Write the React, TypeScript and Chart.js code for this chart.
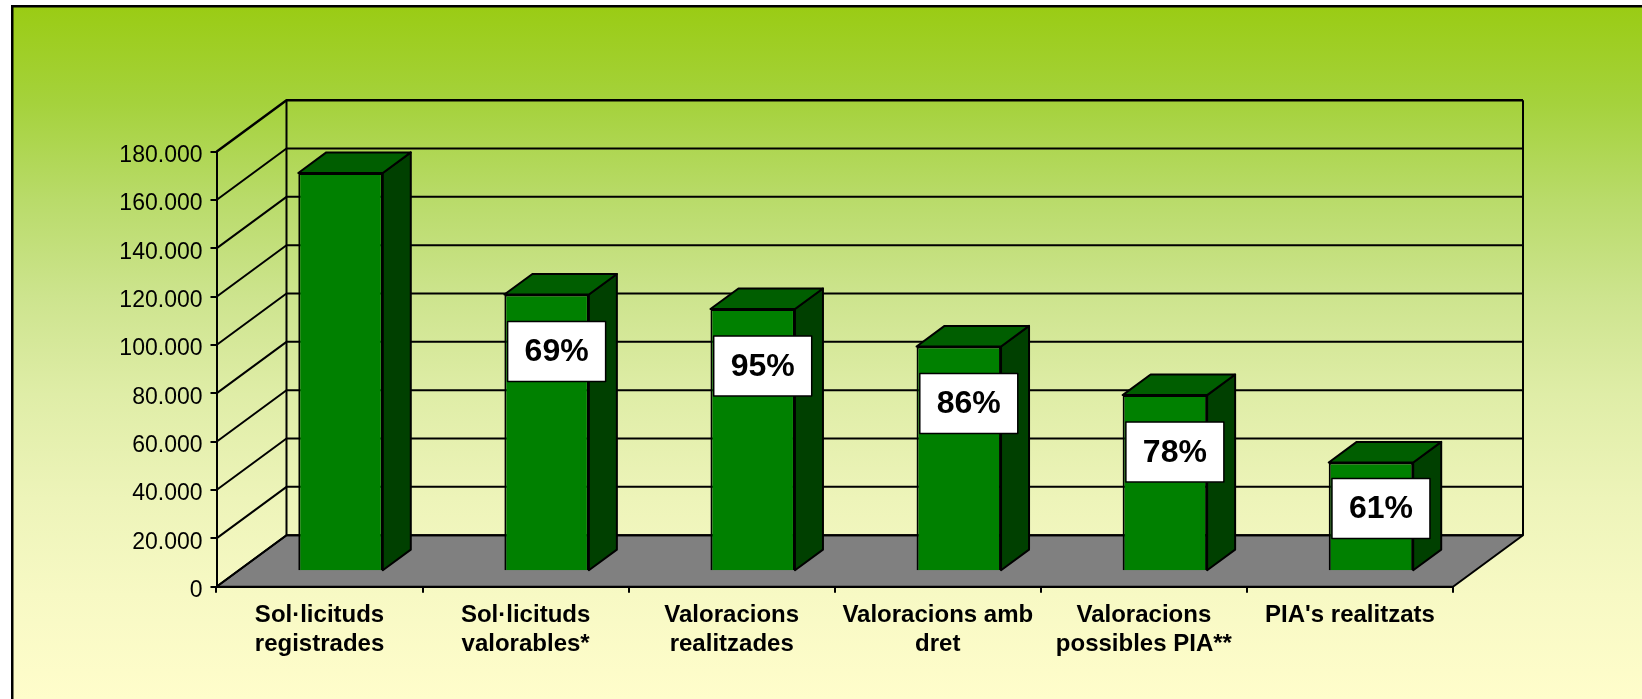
import React, { useEffect, useRef } from "react";
import { Chart, registerables } from "chart.js";

Chart.register(...registerables);

// ---- Data ----
const categories: string[][] = [
  ["Sol·licituds", "registrades"],
  ["Sol·licituds", "valorables*"],
  ["Valoracions", "realitzades"],
  ["Valoracions amb", "dret"],
  ["Valoracions", "possibles PIA**"],
  ["PIA's realitzats"],
];
const values: number[] = [164800, 114500, 108500, 93000, 72900, 45000];
const percentLabels: string[] = ["", "69%", "95%", "86%", "78%", "61%"];
const yMin = 0;
const yMax = 180000;
const yStep = 20000;

// ---- Styling / geometry ----
const FONT = "'Liberation Sans', Arial, Helvetica, sans-serif";
const DX = 70;
const DY = -51.5;
const BAR_FRONT = 0.3;
const BAR_DEPTH = 0.4;

const fmt = (v: number) => String(v).replace(/\B(?=(\d{3})+(?!\d))/g, ".");

const threeDPlugin = {
  id: "threeD",
  beforeDraw(chart: any) {
    const { ctx, width, height } = chart;
    ctx.save();
    ctx.fillStyle = "#ffffff";
    ctx.fillRect(0, 0, width, height);
    const g = ctx.createLinearGradient(0, 6, 0, height);
    g.addColorStop(0, "#9ACC14");
    g.addColorStop(0.14, "#A5D23C");
    g.addColorStop(0.28, "#B9DB6A");
    g.addColorStop(0.42, "#CDE48E");
    g.addColorStop(0.56, "#DFEDA7");
    g.addColorStop(0.71, "#EDF4B9");
    g.addColorStop(0.85, "#F7F9C4");
    g.addColorStop(1, "#FFFDCB");
    ctx.fillStyle = g;
    ctx.fillRect(12, 6, width - 12, height - 6);
    ctx.strokeStyle = "#000";
    ctx.lineWidth = 2.5;
    ctx.beginPath();
    ctx.moveTo(12.25, height + 5);
    ctx.lineTo(12.25, 6.25);
    ctx.lineTo(width + 5, 6.25);
    ctx.stroke();

    const yS = chart.scales.y;
    const L = chart.chartArea.left;
    const R = chart.chartArea.right;
    const y0 = yS.getPixelForValue(yS.min);
    const yT = yS.getPixelForValue(yS.max);

    ctx.lineJoin = "round";
    // floor
    ctx.beginPath();
    ctx.moveTo(L, y0);
    ctx.lineTo(R, y0);
    ctx.lineTo(R + DX, y0 + DY);
    ctx.lineTo(L + DX, y0 + DY);
    ctx.closePath();
    ctx.fillStyle = "#808080";
    ctx.fill();
    ctx.lineWidth = 2;
    ctx.stroke();

    // gridlines on side wall and back wall
    yS.ticks.forEach((t: any) => {
      const y = yS.getPixelForValue(t.value);
      ctx.lineWidth = t.value === yS.max ? 2.5 : 2;
      ctx.beginPath();
      ctx.moveTo(L, y);
      ctx.lineTo(L + DX, y + DY);
      ctx.lineTo(R + DX, y + DY);
      ctx.stroke();
    });
    ctx.lineWidth = 2;
    ctx.beginPath();
    ctx.moveTo(L + DX, yT + DY);
    ctx.lineTo(L + DX, y0 + DY);
    ctx.moveTo(R + DX, yT + DY);
    ctx.lineTo(R + DX, y0 + DY);
    ctx.stroke();
    ctx.restore();
  },
  beforeDatasetsDraw(chart: any) {
    const ctx = chart.ctx;
    ctx.save();
    ctx.translate(DX * BAR_FRONT, DY * BAR_FRONT);
    const meta = chart.getDatasetMeta(0);
    const bx = DX * BAR_DEPTH;
    const by = DY * BAR_DEPTH;
    ctx.lineWidth = 2;
    ctx.lineJoin = "round";
    ctx.strokeStyle = "#000";
    meta.data.forEach((bar: any) => {
      const { x, y, base, width } = bar.getProps(["x", "y", "base", "width"], true);
      const l = x - width / 2;
      const r = x + width / 2;
      // side
      ctx.beginPath();
      ctx.moveTo(r, y);
      ctx.lineTo(r + bx, y + by);
      ctx.lineTo(r + bx, base + by);
      ctx.lineTo(r, base);
      ctx.closePath();
      ctx.fillStyle = "#004000";
      ctx.fill();
      ctx.stroke();
      // top
      ctx.beginPath();
      ctx.moveTo(l, y);
      ctx.lineTo(l + bx, y + by);
      ctx.lineTo(r + bx, y + by);
      ctx.lineTo(r, y);
      ctx.closePath();
      ctx.fillStyle = "#005E00";
      ctx.fill();
      ctx.stroke();
    });
  },
  afterDatasetsDraw(chart: any) {
    const ctx = chart.ctx;
    const meta = chart.getDatasetMeta(0);
    meta.data.forEach((bar: any, i: number) => {
      const txt = percentLabels[i];
      if (!txt) return;
      const { x, y, base } = bar.getProps(["x", "y", "base"], true);
      const cx = x + 10;
      const cy = Math.min(y + 57, (y + base) / 2 - 8);
      const w = 98;
      const h = 60;
      ctx.fillStyle = "#ffffff";
      ctx.fillRect(cx - w / 2, cy - h / 2, w, h);
      ctx.lineWidth = 1.5;
      ctx.strokeStyle = "#000";
      ctx.strokeRect(cx - w / 2, cy - h / 2, w, h);
      ctx.fillStyle = "#000";
      ctx.font = `bold 32px ${FONT}`;
      ctx.textAlign = "center";
      ctx.textBaseline = "middle";
      ctx.fillText(txt, cx, cy + 1);
    });
    ctx.restore();
  },
};

export default function App() {
  const ref = useRef<HTMLCanvasElement | null>(null);
  useEffect(() => {
    if (!ref.current) return;
    const chart = new Chart(ref.current, {
      type: "bar",
      data: {
        labels: categories,
        datasets: [
          {
            data: values,
            backgroundColor: "#008000",
            borderColor: "#000000",
            borderWidth: 2,
            barPercentage: 0.41,
            categoryPercentage: 1,
            clip: false as any,
          },
        ],
      },
      options: {
        responsive: false,
        animation: false,
        devicePixelRatio: 1,
        layout: { padding: { left: 0, top: 151.7, right: 189, bottom: 0 } },
        plugins: {
          legend: { display: false },
          tooltip: { enabled: false },
          title: { display: false },
        },
        scales: {
          x: {
            type: "category",
            offset: true,
            grid: {
              display: true,
              drawOnChartArea: false,
              drawTicks: true,
              tickLength: 6,
              color: "#000",
              lineWidth: 2,
              offset: true,
            },
            border: { display: true, color: "#000", width: 2 },
            ticks: {
              color: "#000",
              font: { family: FONT, size: 24, weight: "bold", lineHeight: 1.2 },
              padding: 8,
              maxRotation: 0,
              minRotation: 0,
              autoSkip: false,
            },
            afterFit: (s: any) => {
              s.height = 699 - 586.7;
            },
          },
          y: {
            min: yMin,
            max: yMax,
            grid: {
              display: true,
              drawOnChartArea: false,
              drawTicks: true,
              tickLength: 6,
              color: "#000",
              lineWidth: 2,
            },
            border: { display: true, color: "#000", width: 2 },
            ticks: {
              stepSize: yStep,
              color: "#000",
              font: { family: FONT, size: 23 },
              padding: 8,
              labelOffset: 4,
              callback: (v: any) => fmt(Number(v)),
            },
            afterFit: (s: any) => {
              s.width = 216.5;
            },
          },
        },
      },
      plugins: [threeDPlugin],
    } as any);
    return () => chart.destroy();
  }, []);
  return (
    <div style={{ position: "fixed", left: 0, top: 0, width: 1642, height: 699 }}>
      <canvas ref={ref} width={1642} height={699} style={{ display: "block" }} />
    </div>
  );
}
